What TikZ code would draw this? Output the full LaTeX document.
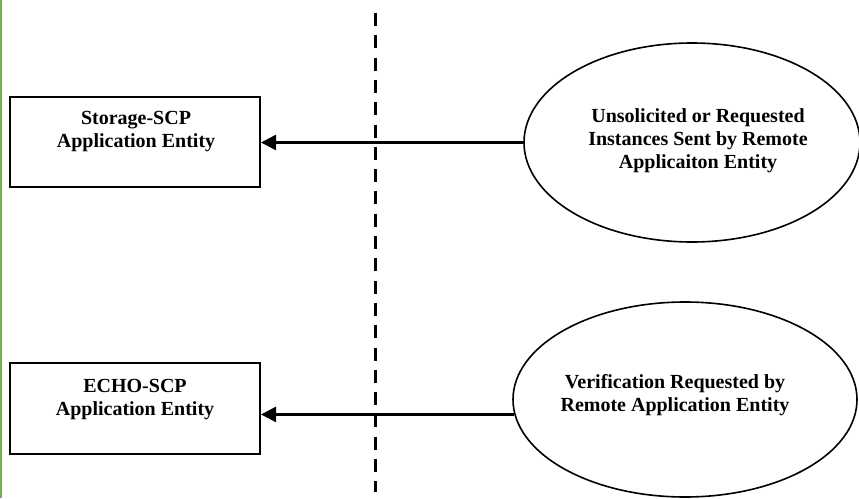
\documentclass[tikz,border=0pt]{standalone}
\usepackage{fontspec}
\setmainfont{Liberation Serif}
\usetikzlibrary{shapes.geometric,arrows.meta}
\definecolor{edgegreen}{RGB}{112,180,72}
\tikzset{
  entbox/.style={draw,line width=2pt,minimum width=250pt,inner sep=0pt},
  remote/.style={draw,ellipse,line width=1.6pt,inner sep=0pt},
  lbl/.style={font=\bfseries\fontsize{20}{23}\selectfont,align=center,inner sep=0pt},
  flow/.style={line width=2.6pt,-{Triangle[length=15pt,width=15pt]}},
  divider/.style={line width=3pt,dash pattern=on 13pt off 9.3pt}
}
\begin{document}
\begin{tikzpicture}[x=1pt,y=-1pt]
\useasboundingbox (0,0) rectangle (859,498);
\draw[edgegreen,line width=1.5pt] (1,0) -- (1,498);
% divider
\coordinate (dtop) at (375,13);
\coordinate (dbot) at (375,492);
\draw[divider] (dtop) -- (dbot);
% boxes
\node[entbox,minimum height=90pt] (b1) at (135,142) {};
\node[entbox,minimum height=91pt] (b2) at (135,408.5) {};
\node[lbl] (t1) at (136,131.8) {Storage-SCP\\Application Entity};
\node[lbl] (t2) at (135,399.8) {ECHO-SCP\\Application Entity};
% ellipses
\node[remote,minimum width=336pt,minimum height=199pt] (e1) at (692,142.5) {};
\node[remote,minimum width=344pt,minimum height=195pt] (e2) at (685,399.5) {};
\node[lbl] (t3) at (698,140.8) {Unsolicited or Requested\\Instances Sent by Remote\\Applicaiton Entity};
\node[lbl] (t4) at (675,395.3) {Verification Requested by\\Remote Application Entity};
% arrows
\draw[flow] (e1.west) -- (e1.west -| b1.east);
\draw[flow] (e2.185.7) -- (e2.185.7 -| b2.east);
\end{tikzpicture}
\end{document}
